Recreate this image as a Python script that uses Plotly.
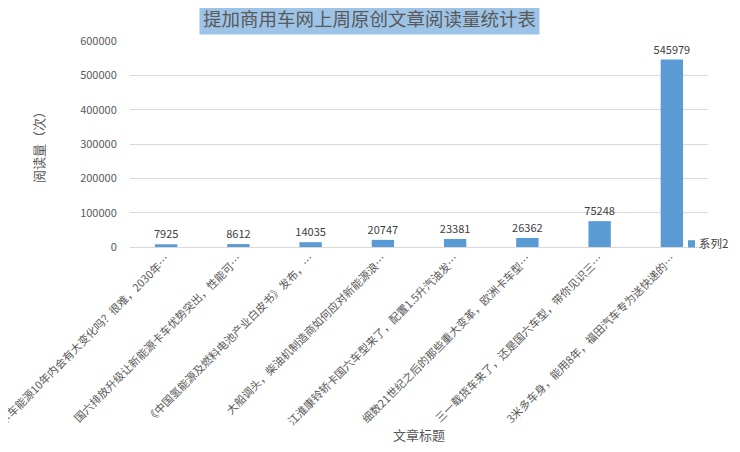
import plotly.graph_objects as go

categories = [
    "卡车能源10年内会有大变化吗？很难，2030年…",
    "国六排放升级让新能源卡车优势突出，性能可…",
    "《中国氢能源及燃料电池产业白皮书》发布，…",
    "大船调头，柴油机制造商如何应对新能源浪…",
    "江淮康铃轿卡国六车型来了，配置1.5升汽油发…",
    "细数21世纪之后的那些重大变革，欧洲卡车型…",
    "三一载货车来了，还是国六车型，带你见识三…",
    "3米多车身，能用8年，福田汽车专为送快递的…",
]
values = [7925, 8612, 14035, 20747, 23381, 26362, 75248, 545979]
series_name = "系列2"
title_text = "提加商用车网上周原创文章阅读量统计表"
y_title = "阅读量（次）"
x_title = "文章标题"

FONT = "Noto Sans CJK SC"
BAR_COLOR = "#5B9BD5"

fig = go.Figure()
fig.add_trace(go.Bar(
    x=categories,
    y=values,
    name=series_name,
    marker=dict(color=BAR_COLOR, line=dict(width=0)),
    width=0.31,
    text=[str(v) for v in values],
    textposition="outside",
    constraintext="none",
    textfont=dict(family=FONT, size=11, color="#404040"),
    cliponaxis=False,
    showlegend=False,
))

fig.update_layout(
    width=724,
    height=436,
    margin=dict(l=122, r=24, t=33, b=197, autoexpand=False),
    paper_bgcolor="white",
    plot_bgcolor="white",
    font=dict(family=FONT, color="#595959"),
    showlegend=False,
    xaxis=dict(
        tickangle=-45,
        tickfont=dict(family=FONT, size=11, color="#595959"),
        showgrid=False,
        showline=True,
        linecolor="#D9D9D9",
        linewidth=1,
        ticks="",
        automargin=False,
        title=dict(text=x_title, font=dict(family=FONT, size=13, color="#595959"), standoff=4),
    ),
    yaxis=dict(
        range=[0, 600000],
        dtick=100000,
        tickformat="d",
        showgrid=True,
        gridcolor="#D9D9D9",
        gridwidth=1,
        zeroline=False,
        showline=False,
        tickfont=dict(family=FONT, size=11, color="#595959"),
        ticks="outside",
        ticklen=10,
        tickcolor="rgba(0,0,0,0)",
        automargin=False,
        title=dict(text=y_title, font=dict(family=FONT, size=13, color="#595959"), standoff=32),
    ),
    bargap=0.69,
)

# legend key (series name) drawn at the bottom-right inside the plot area
fig.add_shape(
    type="rect", xref="paper", yref="paper",
    x0=0.9654, x1=0.9775, y0=-0.002, y1=0.033,
    fillcolor=BAR_COLOR, line=dict(width=0), layer="above",
)
fig.add_annotation(
    text=series_name,
    xref="paper", yref="paper",
    x=0.981, y=0.019, xanchor="left", yanchor="middle",
    showarrow=False,
    font=dict(family=FONT, size=11.5, color="#404040"),
)

fig.add_annotation(
    text=title_text,
    xref="paper", yref="paper",
    x=0.4135, y=1.0, xanchor="center", yanchor="bottom",
    yshift=6,
    showarrow=False,
    font=dict(family=FONT, size=18.5, color="#595959"),
    bgcolor="#9DC3E6",
    borderpad=3,
)

fig.write_html("out.html")
